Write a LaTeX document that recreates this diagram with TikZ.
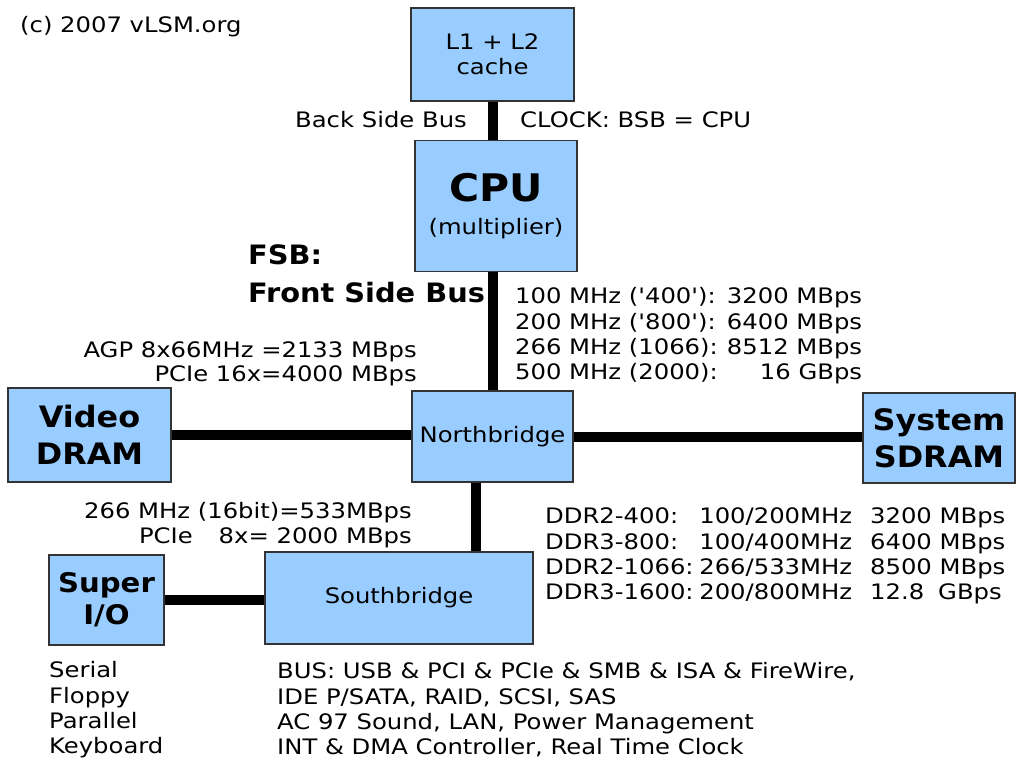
\documentclass[tikz,border=0pt]{standalone}
\usepackage{fontspec}
\newfontfamily\rfam[FakeStretch=1.14, Ligatures=TeXOff]{DejaVu Sans}
\newfontfamily\bfam[FakeStretch=1.08]{DejaVu Sans Bold}
\usetikzlibrary{backgrounds}
\definecolor{boxblue}{HTML}{99CCFF}
\definecolor{boxedge}{HTML}{333333}
\newcommand\regsize{\rfam\fontsize{21.3}{25.3}\selectfont}
\newcommand\ddrrow[3]{\makebox[135pt][l]{#1}\makebox[172pt][r]{#2}\hspace{18pt}#3}
\newcommand\fsbrow[2]{\makebox[165pt][l]{#1}\makebox[182pt][r]{#2}}
\tikzset{
  box/.style={draw=boxedge, line width=1.3pt, fill=boxblue, align=center, inner sep=0pt},
  bus/.style={line width=10pt, black},
  lbl/.style={inner sep=0pt, font=\regsize},
  bold/.style={font=\bfam\fontsize{29.5}{37}\selectfont},
}
\begin{document}
\begin{tikzpicture}[x=1pt,y=-1pt]
\useasboundingbox (0,0) rectangle (1021,758);
% boxes
\node[box, minimum width=163pt, minimum height=93pt, font=\rfam\fontsize{21.3}{25}\selectfont] (cache) at (492.5,54.5) {L1 + L2\\cache};
\node[box, minimum width=162pt, minimum height=131pt] (cpu) at (496,206) {{\bfam\fontsize{38}{44}\selectfont CPU}\\[16pt]{\regsize (multiplier)}};
\node[box, minimum width=161pt, minimum height=91pt, font=\regsize] (nb) at (492.5,436.5) {Northbridge};
\node[box, minimum width=163pt, minimum height=94pt, bold] (vram) at (89.5,435) {Video\\DRAM};
\node[box, minimum width=152pt, minimum height=90pt, bold] (sdram) at (939,438) {System\\SDRAM};
\node[box, minimum width=268pt, minimum height=92pt, font=\regsize] (sb) at (399,598) {Southbridge};
\node[box, minimum width=115pt, minimum height=90pt, font=\bfam\fontsize{27}{32}\selectfont] (sio) at (106.5,600) {Super\\I/O};
% buses
\begin{pgfonlayer}{background}
\draw[bus] (cache.south) -- (cache.south |- cpu.north);
\draw[bus] (cpu.south -| nb.north) -- (nb.north);
\draw[bus] (vram.east) -- (vram.east -| nb.west);
\draw[bus] (nb.east) -- (nb.east -| sdram.west);
\draw[bus] ([xshift=-17pt]nb.south) -- ([xshift=-17pt]nb.south |- sb.north);
\draw[bus] (sio.east) -- (sio.east -| sb.west);
\end{pgfonlayer}
% labels
\node[lbl, anchor=west] (copy) at (20,27) {(c) 2007 vLSM.org};
\node[lbl, anchor=east] (bsb) at (467,120) {Back Side Bus};
\node[lbl, anchor=west] (clock) at (520,120) {CLOCK: BSB = CPU};
\node[anchor=west, inner sep=0pt, align=left, font=\bfam\fontsize{26.7}{38}\selectfont] (fsb) at (248,274) {FSB:\\Front Side Bus};
\node[lbl, anchor=west, align=left] (fsbspeed) at (515,336) {\fsbrow{100 MHz ('400'):}{3200 MBps}\\\fsbrow{200 MHz ('800'):}{6400 MBps}\\\fsbrow{266 MHz (1066):}{8512 MBps}\\\fsbrow{500 MHz (2000):}{16 GBps}};
\node[lbl, anchor=east, align=right, font=\rfam\fontsize{21.3}{24.5}\selectfont] (agp) at (417,364) {AGP 8x66MHz =2133 MBps\\PCIe 16x=4000 MBps};
\node[lbl, anchor=east, align=right] (sbbus) at (412,525) {266 MHz (16bit)=533MBps\\PCIe\hspace{26pt}8x= 2000 MBps};
\node[lbl, anchor=west, align=left] (ddr) at (545,556) {\ddrrow{DDR2-400:}{100/200MHz}{3200 MBps}\\\ddrrow{DDR3-800:}{100/400MHz}{6400 MBps}\\\ddrrow{DDR2-1066:}{266/533MHz}{8500 MBps}\\\ddrrow{DDR3-1600:}{200/800MHz}{12.8\hspace{14pt}GBps}};
\node[lbl, anchor=west, align=left] (sioitems) at (49,710) {Serial\\Floppy\\Parallel\\Keyboard};
\node[lbl, anchor=west, align=left] (sbitems) at (277,710) {BUS: USB \& PCI \& PCIe \& SMB \& ISA \& FireWire,\\IDE P/SATA, RAID, SCSI, SAS\\AC 97 Sound, LAN, Power Management\\INT \& DMA Controller, Real Time Clock};
\end{tikzpicture}
\end{document}
